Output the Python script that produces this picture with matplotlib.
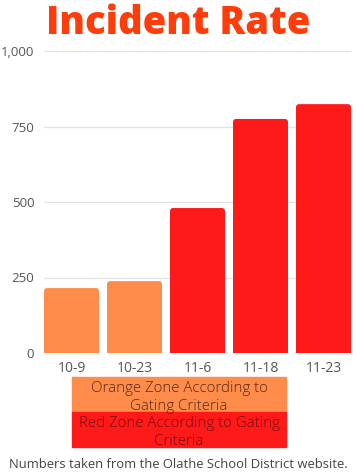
import matplotlib
matplotlib.use("Agg")
import matplotlib.pyplot as plt
from matplotlib.patches import Rectangle, FancyBboxPatch

categories = ["10-9", "10-23", "11-6", "11-18", "11-23"]
values = [215, 238, 480, 775, 824]
zones = ["orange", "orange", "red", "red", "red"]
yticks = [0, 250, 500, 750, 1000]
ytick_labels = ["0", "250", "500", "750", "1,000"]
legend_labels = ["Orange Zone According to\nGating Criteria", "Red Zone According to Gating\nCriteria"]
title = "Incident Rate"
footer = "Numbers taken from the Olathe School District website."

zone_colors = {"orange": "#FF8C4B", "red": "#FF1A1A"}
legend_text_colors = ["#5A2A12", "#7A0A0A"]

plt.rcParams['font.family'] = ['Open Sans', 'DejaVu Sans']

W, H = 356, 475
fig = plt.figure(figsize=(W / 100, H / 100), dpi=100)
ax_w_px, ax_h_px = 351 - 44, 353 - 51
ax = fig.add_axes([44 / W, 1 - 353 / H, ax_w_px / W, ax_h_px / H])

x = list(range(len(categories)))
width = 0.873
ax.set_xlim(-width / 2, len(categories) - 1 + width / 2)
ax.set_ylim(0, 1000)
bars = ax.bar(x, values, width=width, color=[zone_colors[z] for z in zones], zorder=3)

# replace with slightly rounded-top bars
xu_per_px = (len(categories) - 1 + width) / ax_w_px
yu_per_px = 1000 / ax_h_px
r_px = 3
for b in bars:
    bx, by, bw, bh = b.get_x(), b.get_y(), b.get_width(), b.get_height()
    extra = 10 * yu_per_px
    p = FancyBboxPatch((bx, by - extra), bw, bh + extra,
                       boxstyle=f"round,pad=0,rounding_size={r_px * xu_per_px}",
                       mutation_aspect=yu_per_px / xu_per_px,
                       facecolor=b.get_facecolor(), edgecolor='none', zorder=3)
    ax.add_patch(p)
    b.set_visible(False)

ax.set_yticks(yticks)
ax.set_yticklabels(ytick_labels)
ax.set_xticks(x)
ax.set_xticklabels(categories)
ax.tick_params(axis='both', length=0, labelcolor="#555555")
ax.tick_params(axis='y', pad=7, labelsize=9.5)
ax.tick_params(axis='x', pad=6, labelsize=10)
ax.grid(axis='y', color="#E3E3E3", linewidth=0.9, zorder=0)
for s in ax.spines.values():
    s.set_visible(False)

fig.text(0.5, 1 - 24 / H, title, ha='center', va='center', fontsize=27.5,
         fontweight='heavy', color="#FF3D0A")

# zone legend boxes
box_left, box_right = 72 / W, 286 / W
edges = [377, 412, 447]
legend_colors = [zone_colors["orange"], zone_colors["red"]]
for i, lab in enumerate(legend_labels):
    top, bot = edges[i], edges[i + 1]
    fig.patches.append(Rectangle((box_left, 1 - bot / H), box_right - box_left, (bot - top) / H,
                                 transform=fig.transFigure, color=legend_colors[i], zorder=1))
    fig.text((box_left + box_right) / 2, 1 - ((top + bot) / 2 + 3) / H, lab, ha='center', va='center',
             fontsize=10.8, color=legend_text_colors[i], linespacing=1.25, fontweight='light')

fig.text(0.5, 1 - 465 / H, footer, ha='center', va='center', fontsize=9.4, color="#444444")

fig.savefig("out.png", dpi=100)
